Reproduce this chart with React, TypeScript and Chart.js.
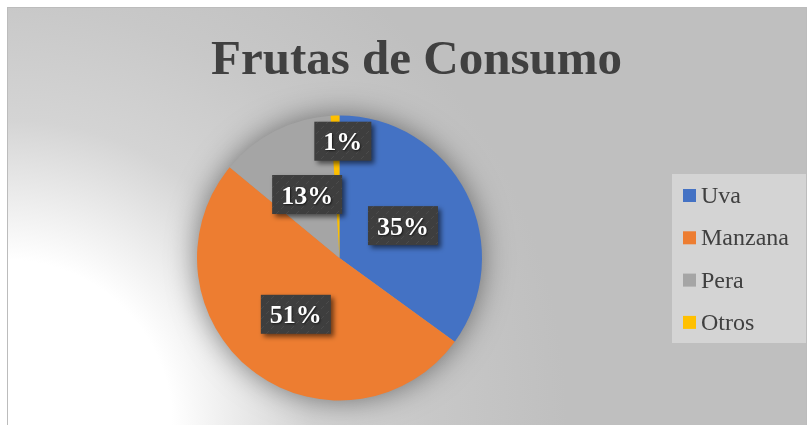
import React, { useEffect, useRef } from "react";
import { Chart, registerables } from "chart.js";

Chart.register(...registerables);

const TITLE = "Frutas de Consumo";
const categories = ["Uva", "Manzana", "Pera", "Otros"];
const values = [35, 51, 13, 1];
const colors = ["#4472C4", "#ED7D31", "#A5A5A5", "#FFC000"];

const W = 809;
const H = 425;
const SERIF = "'Liberation Serif', 'Times New Roman', serif";

function makePattern(ctx: CanvasRenderingContext2D) {
  const c = document.createElement("canvas");
  c.width = 10;
  c.height = 10;
  const p = c.getContext("2d")!;
  p.fillStyle = "#3e3e3e";
  p.fillRect(0, 0, 10, 10);
  p.strokeStyle = "rgba(255,255,255,0.07)";
  p.lineWidth = 1;
  p.beginPath();
  p.moveTo(1, 9);
  p.lineTo(4, 6);
  p.moveTo(6, 4);
  p.lineTo(9, 1);
  p.stroke();
  return ctx.createPattern(c, "repeat") || "#404040";
}

export default function App() {
  const ref = useRef<HTMLCanvasElement>(null);

  useEffect(() => {
    document.body.style.margin = "0";
    const canvas = ref.current!;

    const decor = {
      id: "decor",
      beforeDraw(chart: any) {
        const ctx: CanvasRenderingContext2D = chart.ctx;
        ctx.save();
        ctx.fillStyle = "#ffffff";
        ctx.fillRect(0, 0, W, H);
        const R = 560;
        const g = ctx.createRadialGradient(7, 425, 0, 7, 425, R);
        g.addColorStop(0, "#ffffff");
        g.addColorStop(165 / R, "#ffffff");
        g.addColorStop(305 / R, "#d4d4d4");
        g.addColorStop(420 / R, "#c8c8c8");
        g.addColorStop(1, "#bfbfbf");
        ctx.fillStyle = g;
        ctx.fillRect(7, 7, 800, H - 7);
        ctx.strokeStyle = "#bcbcbc";
        ctx.lineWidth = 1;
        ctx.strokeRect(7.5, 7.5, 799, H);

        // title
        ctx.fillStyle = "#404040";
        ctx.font = `bold 49px ${SERIF}`;
        ctx.textAlign = "center";
        ctx.textBaseline = "alphabetic";
        ctx.fillText(TITLE, 416.5, 73.5);

        // legend
        ctx.fillStyle = "#d4d4d4";
        ctx.fillRect(672, 174, 134, 169);
        ctx.font = `24px ${SERIF}`;
        ctx.textAlign = "left";
        categories.forEach((name, i) => {
          const cy = 195.5 + i * 42.3;
          ctx.fillStyle = colors[i];
          ctx.fillRect(683, cy - 6.5, 13, 13);
          ctx.fillStyle = "#404040";
          ctx.fillText(name, 701, cy + 7.5);
        });
        ctx.restore();
      },
      beforeDatasetsDraw(chart: any) {
        const ctx: CanvasRenderingContext2D = chart.ctx;
        const arc = chart.getDatasetMeta(0).data[0];
        if (!arc) return;
        const { x, y, outerRadius } = arc.getProps(["x", "y", "outerRadius"], true);
        ctx.save();
        ctx.shadowColor = "rgba(0,0,0,0.5)";
        ctx.shadowBlur = 30;
        ctx.fillStyle = "#999999";
        ctx.beginPath();
        ctx.arc(x, y, outerRadius - 1, 0, Math.PI * 2);
        ctx.fill();
        ctx.restore();
      },
      afterDatasetsDraw(chart: any) {
        const ctx: CanvasRenderingContext2D = chart.ctx;
        const total = values.reduce((a, b) => a + b, 0);
        const pattern = makePattern(ctx);
        chart.getDatasetMeta(0).data.forEach((arc: any, i: number) => {
          const { x, y, startAngle, endAngle, outerRadius } = arc.getProps(
            ["x", "y", "startAngle", "endAngle", "outerRadius"],
            true
          );
          const frac = values[i] / total;
          const mid = (startAngle + endAngle) / 2;
          const rf = frac < 0.05 ? 0.82 : 0.5;
          let cx = x + Math.cos(mid) * outerRadius * rf;
          const cy = y + Math.sin(mid) * outerRadius * rf;
          if (frac < 0.05) cx += 7;
          const text = Math.round(frac * 100) + "%";
          ctx.save();
          ctx.font = `bold 26px ${SERIF}`;
          const tw = ctx.measureText(text).width;
          const bw = tw + 18;
          const bh = 39;
          ctx.shadowColor = "rgba(0,0,0,0.55)";
          ctx.shadowBlur = 5;
          ctx.shadowOffsetX = 3;
          ctx.shadowOffsetY = 3;
          ctx.fillStyle = pattern as any;
          ctx.fillRect(cx - bw / 2, cy - bh / 2, bw, bh);
          ctx.shadowColor = "rgba(0,0,0,0.6)";
          ctx.shadowBlur = 2;
          ctx.shadowOffsetX = 1;
          ctx.shadowOffsetY = 1;
          ctx.fillStyle = "#ffffff";
          ctx.textAlign = "center";
          ctx.textBaseline = "alphabetic";
          ctx.fillText(text, cx, cy + 9);
          ctx.restore();
        });
      },
    };

    const chart = new Chart(canvas, {
      type: "pie",
      data: {
        labels: categories,
        datasets: [
          {
            data: values,
            backgroundColor: colors,
            borderWidth: 0,
          },
        ],
      },
      options: {
        responsive: false,
        animation: false,
        layout: { padding: { left: 197, right: 327, top: 115.5, bottom: 24.5 } },
        plugins: {
          legend: { display: false },
          title: { display: false },
          tooltip: { enabled: false },
        },
      },
      plugins: [decor],
    });
    return () => chart.destroy();
  }, []);

  return (
    <div style={{ width: W, height: H }}>
      <canvas ref={ref} width={W} height={H} style={{ display: "block" }} />
    </div>
  );
}
